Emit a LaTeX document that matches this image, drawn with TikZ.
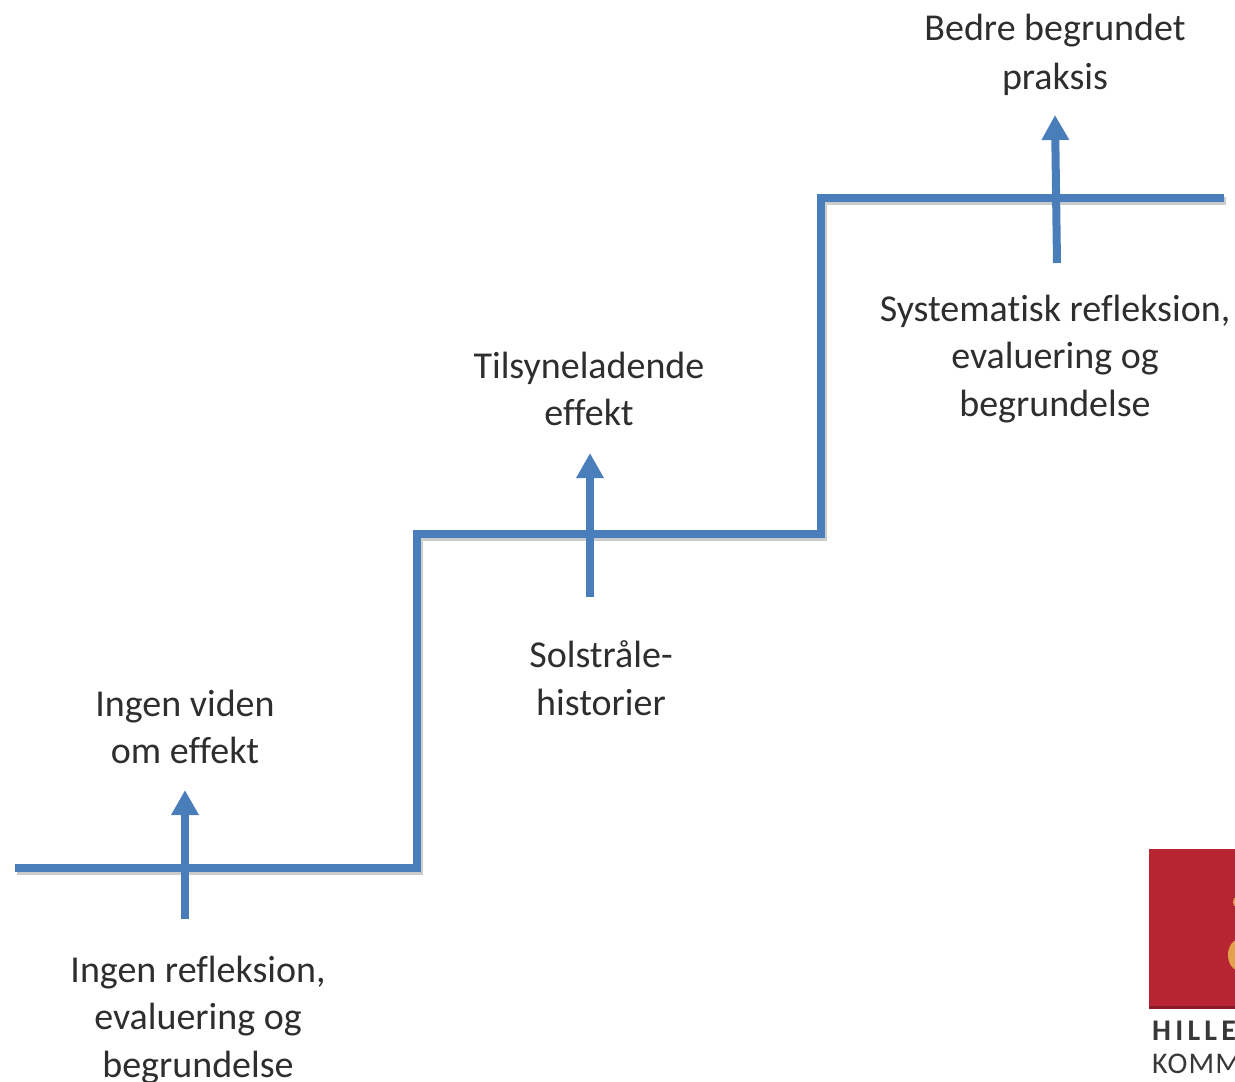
\documentclass[tikz,border=0pt]{standalone}
\usepackage{fontspec}
\setmainfont[Ligatures=NoCommon]{Carlito}
\newfontfamily\logofont[LetterSpace=14]{Carlito}
\newfontfamily\logofontb[LetterSpace=4]{Carlito}
\usetikzlibrary{arrows.meta}
\definecolor{stair}{HTML}{4A7EBB}
\definecolor{logored}{HTML}{B82532}
\definecolor{logogold}{HTML}{E5A04A}
\tikzset{
 x=1pt,y=-1pt,
 stairline/.style={draw=stair,line width=8pt,line join=miter},
 stairshadow/.style={draw=black!20,line width=8pt,line join=miter,transform canvas={xshift=1.5pt,yshift=-2.5pt}},
 uparrow/.style={draw=stair,line width=8pt,-{Triangle[length=25pt,width=26pt]}},
 lbl/.style={align=center,font=\fontsize{38}{47.5}\selectfont,text=black!82,inner sep=0pt},
 logotext/.style={anchor=west,inner sep=0pt,text=black!78},
}
\begin{document}
\begin{tikzpicture}
\useasboundingbox (0,0) rectangle (1235,1082);
\coordinate (s0) at (15,868);
\coordinate (s1) at (417,868);
\coordinate (s2) at (417,534);
\coordinate (s3) at (821,534);
\coordinate (s4) at (821,198);
\coordinate (s5) at (1224,198);
\draw[stairshadow] (s0)--(s1)--(s2)--(s3)--(s4)--(s5);
\draw[stairline] (s0)--(s1)--(s2)--(s3)--(s4)--(s5);
\coordinate (a1s) at (185,919); \coordinate (a1e) at (185,790);
\coordinate (a2s) at (590,597); \coordinate (a2e) at (590,453);
\coordinate (a3s) at (1057,263); \coordinate (a3e) at (1055,115);
\draw[uparrow] (a1s)--(a1e);
\draw[uparrow] (a2s)--(a2e);
\draw[uparrow] (a3s)--(a3e);
\node[lbl] (t1) at (185,727) {Ingen viden\\om effekt};
\node[lbl] (t2) at (198,1020) {Ingen refleksion,\\evaluering og\\begrundelse};
\node[lbl] (t3) at (589,389) {Tilsyneladende\\effekt};
\node[lbl] (t4) at (601,678) {Solstråle-\\historier};
\node[lbl,font=\fontsize{38}{49}\selectfont] (t5) at (1055,55) {Bedre begrundet\\praksis};
\node[lbl] (t6) at (1055,359) {Systematisk refleksion,\\evaluering og\\begrundelse};
\begin{scope}
\clip (1149,849) rectangle (1235,1082);
\fill[logored] (1149,849) rectangle (1235,1007);
\fill[black!25!logored] (1149,1006) rectangle (1235,1008.5);
\fill[logogold] (1240,955) ellipse [x radius=12, y radius=16];
\fill[logogold] (1236,902) ellipse [x radius=3, y radius=5];
\node[logotext,font=\fontsize{30}{30}\selectfont\logofont\bfseries] (l1) at (1152,1031) {HILLE};
\node[logotext,font=\fontsize{30}{30}\selectfont\logofontb] (l2) at (1152,1064) {KOMM};
\end{scope}
\end{tikzpicture}
\end{document}
